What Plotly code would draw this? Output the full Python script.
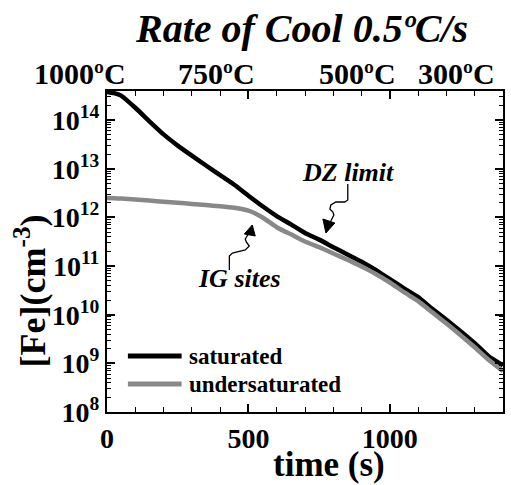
import plotly.graph_objects as go

# Fe concentration during a 0.5 °C/s cool-down
time_s = [0, 25, 50, 100, 150, 200, 250, 300, 350, 400, 450, 500, 550, 600, 650, 700,
          750, 800, 850, 900, 950, 1000, 1050, 1100, 1150, 1200, 1250, 1300, 1350, 1400]
fe_saturated = [3.8e14, 3.6e14, 3.2e14, 1.8e14, 9.5e13, 5.1e13, 3.0e13, 1.86e13, 1.17e13,
                7.4e12, 4.7e12, 2.8e12, 1.7e12, 1.07e12, 7.2e11, 4.8e11, 3.5e11, 2.45e11,
                1.74e11, 1.23e11, 8.3e10, 5.4e10, 3.5e10, 2.3e10, 1.32e10, 7.9e9, 4.6e9,
                2.6e9, 1.38e9, 9.1e8]
fe_undersaturated = [2.5e12, 2.48e12, 2.45e12, 2.35e12, 2.22e12, 2.1e12, 2.0e12, 1.9e12,
                     1.8e12, 1.7e12, 1.58e12, 1.38e12, 1.0e12, 6.3e11, 4.5e11, 3.2e11,
                     2.45e11, 1.82e11, 1.35e11, 9.8e10, 6.9e10, 4.6e10, 2.9e10, 1.9e10,
                     1.12e10, 6.6e9, 3.8e9, 2.14e9, 1.17e9, 6.9e8]

series_names = ["saturated", "undersaturated"]
series_colors = ["black", "#888888"]

x_ticks = [0, 500, 1000]
y_ticks = [1e8, 1e9, 1e10, 1e11, 1e12, 1e13, 1e14]
y_ticktext = ["10<sup>%d</sup>" % e for e in range(8, 15)]
temp_labels = ["1000ºC", "750ºC", "500ºC", "300ºC"]

W, H = 511, 485
L, R, T, B = 107, 505, 91, 412  # plot area in pixels
SERIF = "Liberation Serif"


def px(x, y):
    """pixel position -> paper fraction"""
    return (x - L) / (R - L), (B - y) / (B - T)


def path(points, close=False):
    parts = []
    for i, (x, y) in enumerate(points):
        fx, fy = px(x, y)
        parts.append(("M" if i == 0 else "L") + " %.4f %.4f" % (fx, fy))
    return " ".join(parts) + (" Z" if close else "")


def bold(size, italic=False):
    return dict(family=SERIF, size=size, color="black", weight="bold",
                style="italic" if italic else "normal")


fig = go.Figure()
for name, color, values in zip(series_names, series_colors,
                               [fe_saturated, fe_undersaturated]):
    fig.add_trace(go.Scatter(x=time_s, y=values, mode="lines", name=name, showlegend=False,
                             line=dict(color=color, width=4.5, shape="spline",
                                       smoothing=0.4)))

axis_common = dict(showline=True, linecolor="black", linewidth=2, mirror="ticks",
                   ticks="inside", tickcolor="black", tickwidth=1.5, showgrid=False,
                   zeroline=False, tickfont=bold(28))

fig.update_xaxes(range=[0, 1400], tickvals=x_ticks, ticklen=8,
                 minor=dict(dtick=100, ticks="inside", ticklen=5, tickcolor="black",
                            tickwidth=1.2, showgrid=False),
                 **axis_common)
fig.update_yaxes(type="log", range=[8, 14.6], tickvals=y_ticks, ticktext=y_ticktext,
                 ticklen=8,
                 minor=dict(dtick="D1", ticks="inside", ticklen=4, tickcolor="black",
                            tickwidth=1, showgrid=False),
                 **axis_common)

annotations = []
# temperature scale along the top
for label, cx in zip(temp_labels, [80, 217, 359, 458]):
    fx, fy = px(cx, 73)
    annotations.append(dict(text=label, x=fx, y=fy, xref="paper", yref="paper",
                            xanchor="center", yanchor="middle", showarrow=False,
                            font=bold(30)))
# axis titles
fx, fy = px(330, 464)
annotations.append(dict(text="time (s)", x=fx, y=fy, xref="paper", yref="paper",
                        xanchor="center", yanchor="middle", showarrow=False,
                        font=bold(35)))
fx, fy = px(30, 291)
annotations.append(dict(text="[Fe](cm<sup>-3</sup>)", x=fx, y=fy, xref="paper", yref="paper",
                        xanchor="center", yanchor="middle", showarrow=False, textangle=-90,
                        font=bold(36)))
# curve callouts
for text, cx, cy in [("DZ limit", 349, 172), ("IG sites", 240, 278)]:
    fx, fy = px(cx, cy)
    annotations.append(dict(text=text, x=fx, y=fy, xref="paper", yref="paper",
                            xanchor="center", yanchor="middle", showarrow=False,
                            font=bold(26, italic=True)))

shapes = []
dz_wiggle = [(349, 184), (349, 200), (346, 202), (337, 202), (332, 205), (331, 209),
             (334, 212), (335, 215), (332, 221)]
ig_wiggle = [(230, 270), (230, 256), (233, 253), (246, 250), (250, 246), (247, 242),
             (246, 239), (249, 234)]
for pts in (dz_wiggle, ig_wiggle):
    shapes.append(dict(type="path", path=path(pts), xref="paper", yref="paper",
                       line=dict(color="black", width=1.3)))
for tri in ([(327, 233), (324, 219), (336, 223)], [(253, 225), (245, 234), (256, 236)]):
    shapes.append(dict(type="path", path=path(tri, close=True), xref="paper", yref="paper",
                       line=dict(color="black", width=1), fillcolor="black"))

# legend: sample line + label for each series
for i, (name, color) in enumerate(zip(series_names, series_colors)):
    row_y = 356 + 28 * i
    x0, y0 = px(128, row_y)
    x1, _ = px(182, row_y)
    shapes.append(dict(type="line", xref="paper", yref="paper", x0=x0, x1=x1, y0=y0, y1=y0,
                       line=dict(color=color, width=5)))
    tx, _ = px(187, row_y)
    annotations.append(dict(text=name, x=tx, y=y0, xref="paper", yref="paper",
                            xanchor="left", yanchor="middle", showarrow=False,
                            font=bold(23)))

fig.update_layout(
    width=W, height=H,
    margin=dict(l=L, r=W - R, t=T, b=H - B),
    paper_bgcolor="white", plot_bgcolor="white",
    title=dict(text="Rate of Cool 0.5ºC/s", x=302 / W, xanchor="center",
               y=1 - 28 / H, yanchor="middle", font=bold(40, italic=True)),
    showlegend=False,
    annotations=annotations,
    shapes=shapes,
)

fig.write_html("out.html")
